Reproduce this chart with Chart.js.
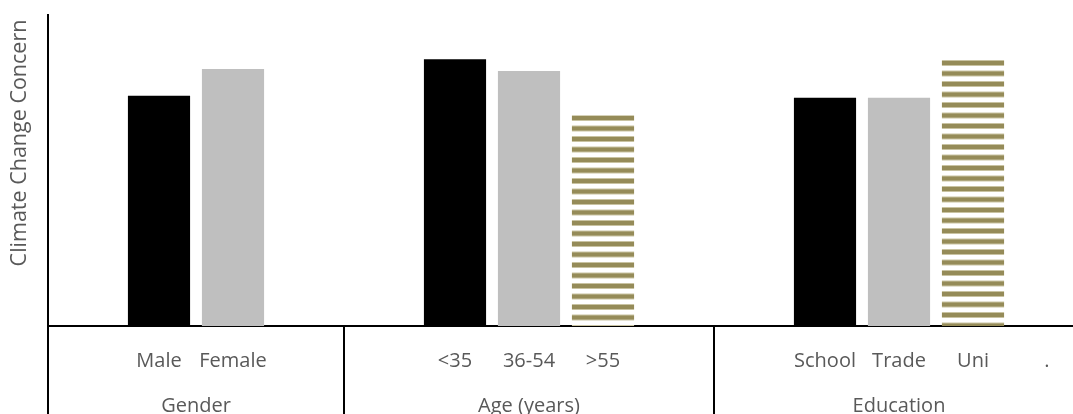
<!DOCTYPE html>
<html lang="en">
<head>
    <meta charset="UTF-8">
    <title>Climate Change Concern</title>
    <script src="https://cdn.jsdelivr.net/npm/chart.js"></script>
    <style>
        html, body {
            margin: 0;
            padding: 0;
            background: #ffffff;
            overflow: hidden;
        }
        #chart-container {
            width: 1090px;
            height: 414px;
        }
    </style>
</head>
<body>
    <div id="chart-container">
        <canvas id="chart"></canvas>
    </div>

    <script>
        // category slots (empty strings are spacer slots between groups)
        var tickLabels = ['', 'Male', 'Female', '', '', '<35', '36-54', '>55', '', '', 'School', 'Trade', 'Uni', '.'];
        var groupLabels = ['Gender', 'Age (years)', 'Education'];

        // concern score per sub-group (scale 0-5)
        var genderValues = [3.70, 4.13];
        var ageValues = [4.29, 4.10, 3.39];
        var educationValues = [3.67, 3.67, 4.28];

        var textColor = '#595959';
        var fontFamily = '"Open Sans", sans-serif';
        var fontSize = 20;

        function makeStripes() {
            var c = document.createElement('canvas');
            c.width = 4;
            c.height = 21;
            var g = c.getContext('2d');
            g.fillStyle = '#ffffff';
            g.fillRect(0, 0, 4, 21);
            [0, 10.5].forEach(function(y0) {
                g.fillStyle = '#c9c3a2';
                g.fillRect(0, y0, 4, 6);
                g.fillStyle = '#958b58';
                g.fillRect(0, y0 + 1, 4, 4);
            });
            return g.createPattern(c, 'repeat');
        }
        // one pattern per striped bar so each starts with a stripe at its top
        var stripesAge = makeStripes();
        var stripesEdu = makeStripes();

        var values = [null].concat(genderValues, [null, null], ageValues, [null, null], educationValues, [null]);
        var colors = [null, '#000000', '#bfbfbf', null, null, '#000000', '#bfbfbf', stripesAge, null, null, '#000000', '#bfbfbf', stripesEdu, null];

        var stripeAlign = {
            id: 'stripeAlign',
            beforeDatasetsDraw: function(chart) {
                var bars = chart.getDatasetMeta(0).data;
                [[7, stripesAge], [12, stripesEdu]].forEach(function(p) {
                    var top = Math.round(bars[p[0]].y);
                    p[1].setTransform(new DOMMatrix().translate(0, top));
                });
            }
        };

        var groupPlugin = {
            id: 'groups',
            afterDraw: function(chart) {
                var ctx = chart.ctx;
                var x = chart.scales.x;
                var area = chart.chartArea;
                var bottom = 414;
                ctx.save();
                ctx.strokeStyle = '#000000';
                ctx.lineWidth = 2;
                // separators between groups and y axis extension
                var seps = [(x.getPixelForValue(3) + x.getPixelForValue(4)) / 2,
                            (x.getPixelForValue(8) + x.getPixelForValue(9)) / 2];
                ctx.beginPath();
                ctx.moveTo(area.left, area.bottom);
                ctx.lineTo(area.left, bottom);
                seps.forEach(function(s) {
                    ctx.moveTo(s, area.bottom);
                    ctx.lineTo(s, bottom);
                });
                ctx.stroke();

                ctx.fillStyle = textColor;
                ctx.font = fontSize + 'px ' + fontFamily;
                ctx.textAlign = 'center';
                ctx.textBaseline = 'alphabetic';
                var centers = [x.getPixelForValue(1.5), x.getPixelForValue(6), x.getPixelForValue(11)];
                groupLabels.forEach(function(t, i) {
                    ctx.fillText(t, centers[i], 412);
                });

                // y axis title
                ctx.font = '21.5px ' + fontFamily;
                ctx.translate(20, 143);
                ctx.rotate(-Math.PI / 2);
                ctx.textBaseline = 'middle';
                ctx.fillText('Climate Change Concern', 0, 0);
                ctx.restore();
            }
        };

        new Chart(document.getElementById('chart'), {
            type: 'bar',
            data: {
                labels: tickLabels,
                datasets: [{
                    data: values,
                    backgroundColor: colors,
                    barPercentage: 0.84,
                    categoryPercentage: 1.0
                }]
            },
            options: {
                responsive: true,
                maintainAspectRatio: false,
                animation: false,
                layout: { padding: { top: 15, right: 6, left: 0, bottom: 0 } },
                plugins: {
                    legend: { display: false },
                    tooltip: { enabled: false }
                },
                scales: {
                    x: {
                        grid: { display: false },
                        border: { display: true, color: '#000000', width: 2 },
                        ticks: {
                            color: textColor,
                            font: { family: fontFamily, size: fontSize },
                            padding: 15,
                            autoSkip: false,
                            maxRotation: 0
                        },
                        afterFit: function(scale) { scale.height = 88; }
                    },
                    y: {
                        min: 0,
                        max: 5,
                        grid: { display: false },
                        border: { display: true, color: '#000000', width: 2 },
                        ticks: { display: false },
                        afterFit: function(scale) { scale.width = 48; }
                    }
                }
            },
            plugins: [stripeAlign, groupPlugin]
        });
    </script>
</body>
</html>
